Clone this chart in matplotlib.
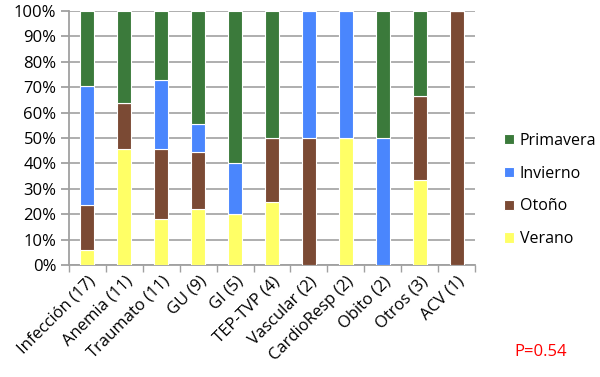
import matplotlib
matplotlib.use("Agg")
import matplotlib.pyplot as plt
import numpy as np

plt.rcParams["font.family"] = ["Open Sans", "DejaVu Sans"]

categories = ["Infección (17)", "Anemia (11)", "Traumato (11)", "GU (9)", "GI (5)",
              "TEP-TVP (4)", "Vascular (2)", "CardioResp (2)", "Obito (2)",
              "Otros (3)", "ACV (1)"]

# porcentajes por estación (apilados de abajo hacia arriba)
verano    = [5.9, 45.5, 18.2, 22.2, 20.0, 25.0, 0.0, 50.0, 0.0, 33.3, 0.0]
otono     = [17.6, 18.2, 27.3, 22.2, 0.0, 25.0, 50.0, 0.0, 0.0, 33.3, 100.0]
invierno  = [47.1, 0.0, 27.3, 11.1, 20.0, 0.0, 50.0, 50.0, 50.0, 0.0, 0.0]
primavera = [29.4, 36.4, 27.3, 44.4, 60.0, 50.0, 0.0, 0.0, 50.0, 33.4, 0.0]

series = [("Verano", verano, "#ffff66"),
          ("Otoño", otono, "#7b4a34"),
          ("Invierno", invierno, "#4a86fd"),
          ("Primavera", primavera, "#3b7a3b")]

fig = plt.figure(figsize=(6, 3.77), dpi=100, facecolor="white")
ax = fig.add_axes([69 / 600, 1 - 265 / 377, 406 / 600, 254 / 377])

x = np.arange(len(categories))
bottom = np.zeros(len(categories))
handles = []
for name, vals, col in series:
    vals = np.array(vals)
    b = ax.bar(x, vals, 0.38, bottom=bottom, color=col, edgecolor="white",
               linewidth=0.8, label=name, zorder=3)
    handles.append(b)
    bottom += vals

ax.set_xlim(-0.5, len(categories) - 0.5)
ax.set_ylim(0, 100)
ax.set_yticks(np.arange(0, 101, 10))
ax.set_yticklabels([f"{v}%" for v in range(0, 101, 10)], fontsize=12)
ax.yaxis.grid(True, color="#a8a8a8", linewidth=1.3, zorder=0)

ax.set_xticks(x)
ax.set_xticklabels(categories, rotation=45, ha="right", rotation_mode="anchor",
                   fontsize=12)
ax.set_xticks(np.arange(-0.5, len(categories), 1), minor=True)
ax.tick_params(axis="x", which="major", length=0, pad=6)
ax.tick_params(axis="x", which="minor", length=5, color="#a0a0a0", width=1)
ax.tick_params(axis="y", length=6, color="#a0a0a0", width=1.3, pad=3)

for s in ["top", "right"]:
    ax.spines[s].set_visible(False)
for s in ["left", "bottom"]:
    ax.spines[s].set_color("#a0a0a0")
    ax.spines[s].set_linewidth(1.3)

leg = fig.legend(handles[::-1], [h.get_label() for h in handles[::-1]],
                 loc="center left", bbox_to_anchor=(490 / 600, 1 - 190 / 377),
                 frameon=False, fontsize=11.5, handlelength=0.6, handleheight=0.6,
                 handletextpad=0.35, labelspacing=1.05)

fig.text(541 / 600, 1 - 352 / 377, "P=0.54", color="red", fontsize=12,
         ha="center", va="center")

fig.savefig("out.png", dpi=100, facecolor="white")
